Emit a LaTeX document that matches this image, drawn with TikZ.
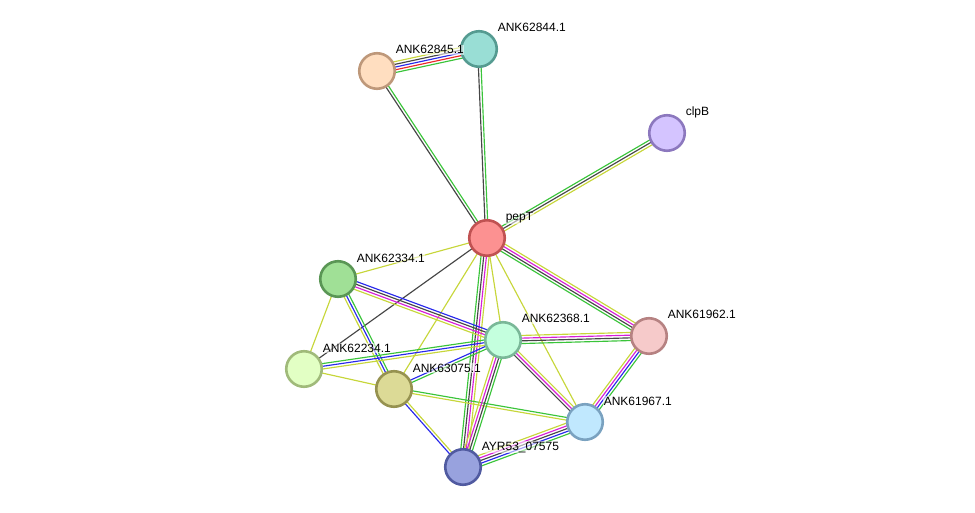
\documentclass[tikz,border=0pt]{standalone}
\usepackage{fontspec}
\setmainfont{Liberation Sans}
\usetikzlibrary{calc,backgrounds}
\definecolor{tyel}{RGB}{199,214,58}
\definecolor{tgrn}{RGB}{58,196,58}
\definecolor{tblk}{RGB}{70,70,70}
\definecolor{tblue}{RGB}{40,40,235}
\definecolor{tred}{RGB}{235,40,40}
\definecolor{tmag}{RGB}{215,30,215}
\newcommand\spc{2.7}
\newcommand\medge[3]{%
  \foreach \cc [count=\ii] in {#3} {\xdef\nn{\ii}}%
  \foreach \cc [count=\ii] in {#3} {%
    \pgfmathsetmacro\off{((\nn+1)/2-\ii)*\spc}%
    \draw[edgeline, \cc] ($(#1.center)!\off pt!90:(#2.center)$) -- ($(#2.center)!\off pt!-90:(#1.center)$);
  }%
}
\begin{document}
\begin{tikzpicture}[x=1pt,y=-1pt,
  prot/.style={circle, minimum size=35.5pt, inner sep=0pt, line width=2.6pt},
  lab/.style={anchor=base west, font=\fontsize{12}{14}\selectfont, text=black, inner sep=0.6pt, fill=white, fill opacity=0.55, text opacity=1},
  edgeline/.style={line width=1.15pt}]
\useasboundingbox (0,0) rectangle (975,513);
\node[prot, fill={rgb,255:red,153;green,222;blue,213}, draw={rgb,255:red,85;green,155;blue,145}] (n62844) at (479,49) {};
\node[prot, fill={rgb,255:red,255;green,222;blue,192}, draw={rgb,255:red,190;green,152;blue,122}] (n62845) at (377,71) {};
\node[prot, fill={rgb,255:red,212;green,196;blue,255}, draw={rgb,255:red,140;green,120;blue,190}] (clpB) at (667,133) {};
\node[prot, fill={rgb,255:red,252;green,145;blue,145}, draw={rgb,255:red,192;green,82;blue,82}] (pepT) at (487,238) {};
\node[prot, fill={rgb,255:red,160;green,224;blue,150}, draw={rgb,255:red,90;green,150;blue,85}] (n62334) at (338,279) {};
\node[prot, fill={rgb,255:red,196;green,255;blue,222}, draw={rgb,255:red,122;green,184;blue,152}] (n62368) at (503,340) {};
\node[prot, fill={rgb,255:red,246;green,202;blue,202}, draw={rgb,255:red,182;green,130;blue,130}] (n61962) at (649,336) {};
\node[prot, fill={rgb,255:red,226;green,255;blue,196}, draw={rgb,255:red,160;green,186;blue,122}] (n62234) at (304,369) {};
\node[prot, fill={rgb,255:red,220;green,218;blue,150}, draw={rgb,255:red,150;green,146;blue,80}] (n63075) at (394,389) {};
\node[prot, fill={rgb,255:red,192;green,232;blue,254}, draw={rgb,255:red,122;green,162;blue,192}] (n61967) at (585,422) {};
\node[prot, fill={rgb,255:red,152;green,162;blue,222}, draw={rgb,255:red,80;green,90;blue,160}] (ayr) at (463,467) {};

\node[lab] (l62844) at ($(n62844)+(18,-17)$) {ANK62844.1};
\node[lab] (l62845) at ($(n62845)+(18,-17)$) {ANK62845.1};
\node[lab] (lclpB) at ($(clpB)+(18,-17)$) {clpB};
\node[lab] (lpepT) at ($(pepT)+(18,-17)$) {pepT};
\node[lab] (l62334) at ($(n62334)+(18,-17)$) {ANK62334.1};
\node[lab] (l62368) at ($(n62368)+(18,-17)$) {ANK62368.1};
\node[lab] (l61962) at ($(n61962)+(18,-17)$) {ANK61962.1};
\node[lab] (l62234) at ($(n62234)+(18,-17)$) {ANK62234.1};
\node[lab] (l63075) at ($(n63075)+(18,-17)$) {ANK63075.1};
\node[lab] (l61967) at ($(n61967)+(18,-17)$) {ANK61967.1};
\node[lab] (layr) at ($(ayr)+(18,-17)$) {AYR53\_07575};

\begin{pgfonlayer}{background}
\medge{n62845}{n62844}{tyel,tblk,tblue,tred,tgrn}
\medge{n62845}{pepT}{tgrn,tblk}
\medge{n62844}{pepT}{tgrn,tblk}
\medge{pepT}{clpB}{tgrn,tblk,tyel}
\medge{pepT}{n61962}{tyel,tmag,tblk,tgrn}
\medge{pepT}{n62334}{tyel}
\medge{pepT}{n62234}{tblk}
\medge{pepT}{n63075}{tyel}
\medge{pepT}{n62368}{tyel}
\medge{pepT}{n61967}{tyel}
\medge{pepT}{ayr}{tyel,tmag,tblk,tgrn}
\medge{n62334}{n62368}{tblue,tblk,tmag,tyel}
\medge{n62334}{n63075}{tgrn,tblue,tyel}
\medge{n62334}{n62234}{tyel}
\medge{n62234}{n62368}{tgrn,tblue,tyel}
\medge{n62234}{n63075}{tyel}
\medge{n63075}{n62368}{tblue,tgrn}
\medge{n63075}{n61967}{tgrn,tyel}
\medge{n63075}{ayr}{tyel,tblue}
\medge{n62368}{n61962}{tyel,tmag,tblk,tgrn}
\medge{n62368}{n61967}{tyel,tmag,tblk}
\medge{n62368}{ayr}{tgrn,tblk,tmag,tyel}
\medge{n61962}{n61967}{tgrn,tblue,tmag,tyel}
\medge{n61967}{ayr}{tgrn,tblue,tblk,tmag,tyel}
\end{pgfonlayer}
\end{tikzpicture}
\end{document}
